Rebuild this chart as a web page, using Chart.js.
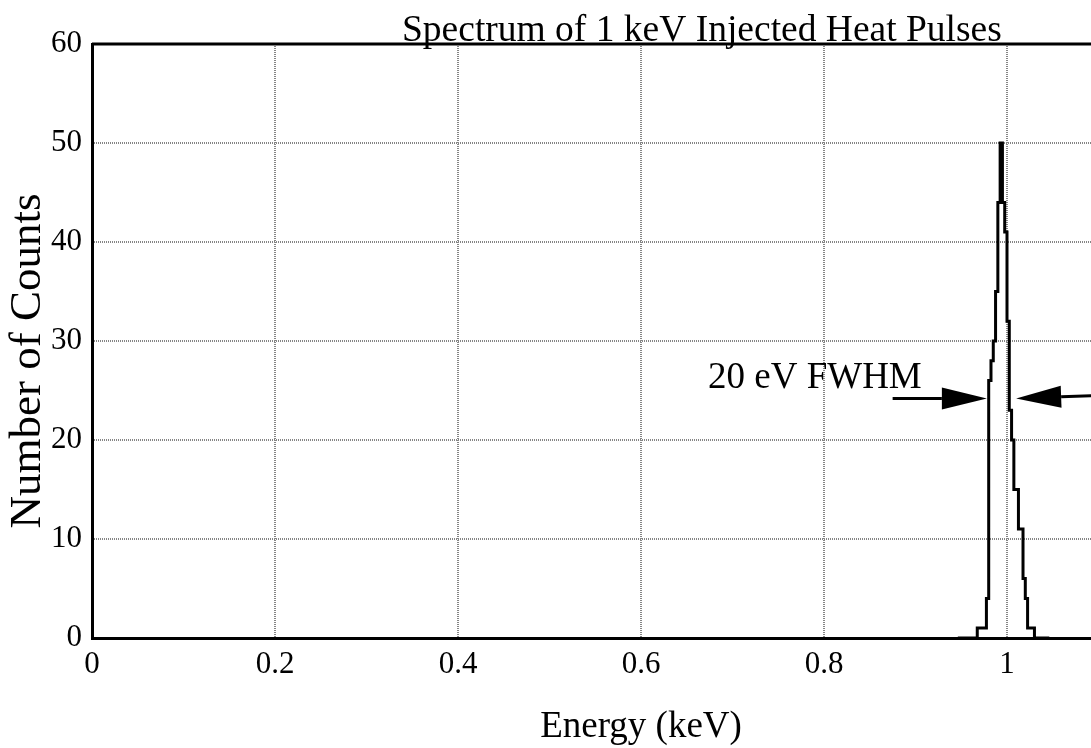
<!DOCTYPE html>
<html lang="en">
<head>
    <meta charset="UTF-8">
    <title>Spectrum of 1 keV Injected Heat Pulses</title>
    <script src="https://cdn.jsdelivr.net/npm/chart.js@4.4.0/dist/chart.umd.min.js"></script>
    <style>
        html, body {
            margin: 0;
            padding: 0;
            background: #ffffff;
            overflow: hidden;
        }
        /* plot runs past the right edge of the window, like the original crop */
        .chart-box {
            position: relative;
            width: 1240px;
            height: 748px;
        }
    </style>
</head>
<body>
    <div class="chart-box">
        <canvas id="spectrumChart"></canvas>
    </div>

    <script>
        // histogram bins (keV)
        const binStart = 0.945;
        const binWidth = 0.0025;
        const counts = [
            0, 0, 0, 0, 0, 0, 0, 0, 0,
            1, 1, 1, 1, 4, 26, 28, 30, 35, 44, 50, 44, 41, 32,
            23, 20, 15, 15, 11, 11, 6, 4, 1, 1, 1,
            0, 0, 0, 0, 0, 0, 0
        ];
        const xTicks = [0, 0.2, 0.4, 0.6, 0.8, 1, 1.2];
        const yTicks = [0, 10, 20, 30, 40, 50, 60];

        // FWHM arrows, in data units
        const arrowY = 24.2;
        const leftArrow = [0.875, 0.978];
        const rightArrow = [1.1, 1.010];

        const serif = "'Liberation Serif', 'Times New Roman', serif";

        const points = counts.map((c, i) => ({ x: binStart + (i + 0.5) * binWidth, y: c }));

        function drawArrow(ctx, x0, y0, x1, y1, headLen, headHalf) {
            const ang = Math.atan2(y1 - y0, x1 - x0);
            const bx = x1 - headLen * Math.cos(ang);
            const by = y1 - headLen * Math.sin(ang);
            ctx.beginPath();
            ctx.moveTo(x0, y0);
            ctx.lineTo(bx, by);
            ctx.stroke();
            ctx.beginPath();
            ctx.moveTo(x1, y1);
            ctx.lineTo(bx - headHalf * Math.sin(ang), by + headHalf * Math.cos(ang));
            ctx.lineTo(bx + headHalf * Math.sin(ang), by - headHalf * Math.cos(ang));
            ctx.closePath();
            ctx.fill();
        }

        const extrasPlugin = {
            id: 'extras',
            afterDraw(chart) {
                const { ctx, chartArea, scales } = chart;
                const xs = scales.x, ys = scales.y;
                ctx.save();
                ctx.strokeStyle = '#000';
                ctx.fillStyle = '#000';

                // top frame line
                ctx.lineWidth = 3;
                ctx.beginPath();
                ctx.moveTo(chartArea.left, chartArea.top);
                ctx.lineTo(chartArea.right, chartArea.top);
                ctx.stroke();

                // title
                ctx.font = '37.5px ' + serif;
                ctx.textAlign = 'left';
                ctx.textBaseline = 'alphabetic';
                ctx.fillText('Spectrum of 1 keV Injected Heat Pulses', 402, 41);

                // y axis title
                ctx.save();
                ctx.translate(28, 361);
                ctx.rotate(-Math.PI / 2);
                ctx.font = '45px ' + serif;
                ctx.textAlign = 'center';
                ctx.textBaseline = 'middle';
                ctx.fillText('Number of Counts', 0, 0);
                ctx.restore();

                // FWHM label and arrows
                ctx.font = '37px ' + serif;
                ctx.textAlign = 'left';
                ctx.textBaseline = 'alphabetic';
                ctx.fillText('20 eV FWHM', 708, 388);

                ctx.lineWidth = 3;
                const py = ys.getPixelForValue(arrowY);
                drawArrow(ctx, xs.getPixelForValue(leftArrow[0]), py, xs.getPixelForValue(leftArrow[1]), py, 45, 11);
                drawArrow(ctx, xs.getPixelForValue(rightArrow[0]), py - 3, xs.getPixelForValue(rightArrow[1]), py, 45, 11);

                ctx.restore();
            }
        };

        document.addEventListener('DOMContentLoaded', () => {
            const ctx = document.getElementById('spectrumChart').getContext('2d');
            new Chart(ctx, {
                type: 'line',
                data: {
                    datasets: [{
                        label: 'Counts',
                        data: points,
                        stepped: 'middle',
                        borderColor: '#000000',
                        borderWidth: 3,
                        pointRadius: 0,
                        fill: false
                    }]
                },
                options: {
                    responsive: true,
                    maintainAspectRatio: false,
                    animation: false,
                    layout: {
                        padding: { top: 44, left: 0, right: 50, bottom: 0 }
                    },
                    plugins: {
                        legend: { display: false },
                        tooltip: { enabled: false }
                    },
                    scales: {
                        x: {
                            type: 'linear',
                            min: 0,
                            max: 1.2,
                            afterBuildTicks: (scale) => {
                                scale.ticks = xTicks.map(v => ({ value: v }));
                            },
                            afterFit: (scale) => {
                                scale.height = 110;
                            },
                            ticks: {
                                color: '#000',
                                padding: 8,
                                maxRotation: 0,
                                font: { family: serif, size: 31 },
                                callback: (v) => String(v)
                            },
                            grid: {
                                color: '#858585',
                                lineWidth: 2,
                                drawTicks: false
                            },
                            border: {
                                color: '#000',
                                width: 3,
                                dash: [1, 1]
                            },
                            title: {
                                display: true,
                                text: 'Energy (keV)',
                                color: '#000',
                                font: { family: serif, size: 37, lineHeight: 1 },
                                padding: { top: 0, bottom: 2 }
                            }
                        },
                        y: {
                            min: 0,
                            max: 60,
                            afterBuildTicks: (scale) => {
                                scale.ticks = yTicks.map(v => ({ value: v }));
                            },
                            afterFit: (scale) => {
                                scale.width = 92;
                            },
                            ticks: {
                                color: '#000',
                                padding: 10,
                                font: { family: serif, size: 31 }
                            },
                            grid: {
                                color: '#858585',
                                lineWidth: 2,
                                drawTicks: false
                            },
                            border: {
                                color: '#000',
                                width: 3,
                                dash: [1, 1]
                            }
                        }
                    }
                },
                plugins: [extrasPlugin]
            });
        });
    </script>
</body>
</html>
